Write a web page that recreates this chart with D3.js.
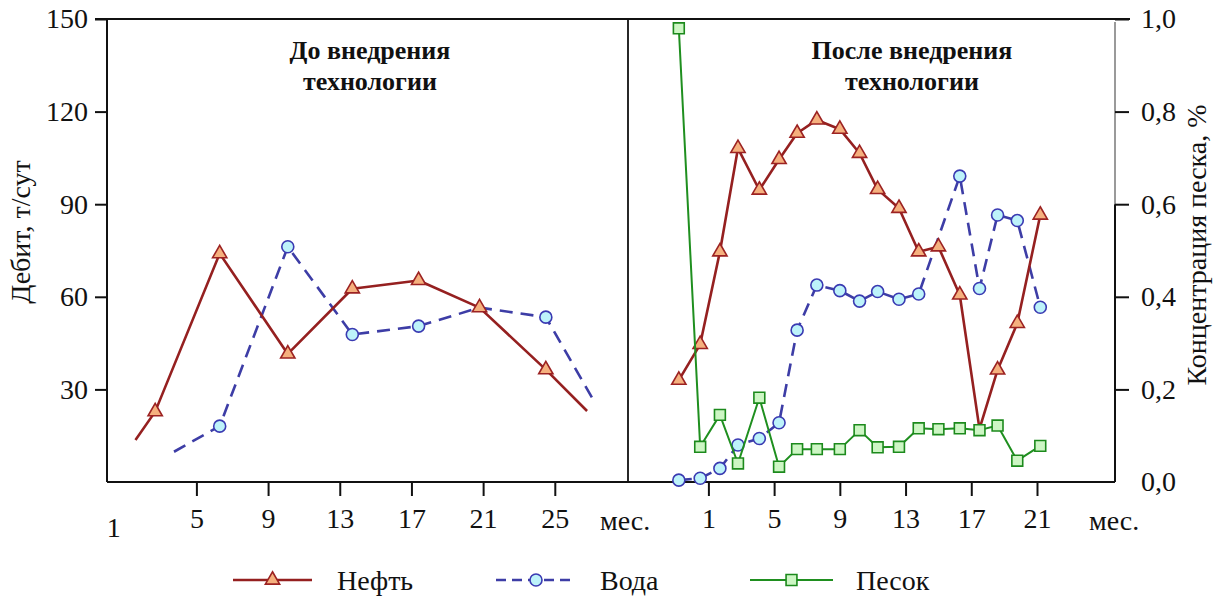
<!DOCTYPE html>
<html>
<head>
<meta charset="utf-8">
<script src="https://cdn.jsdelivr.net/npm/d3@7"></script>
<style>
  html, body { margin: 0; padding: 0; background: #fff; }
  svg { display: block; }
  svg text { font-family: "Liberation Serif", "DejaVu Serif", serif; fill: #111; }
</style>
</head>
<body>
<svg id="chart" width="1215" height="599"></svg>
<script>
// ---- Data ----------------------------------------------------------------
const ticksBefore = [5, 9, 13, 17, 21, 25];
const ticksAfter = [1, 5, 9, 13, 17, 21];
const rateTicks = [30, 60, 90, 120, 150];
const sandTicks = [0, 0.2, 0.4, 0.6, 0.8, 1.0];

// До внедрения технологии (lines are cut at the panel ends, no marker there)
const monthsBeforeOil = [1.6, 2.7, 6.3, 10.1, 13.7, 17.4, 20.8, 24.5, 26.8];
const oilBefore       = [13.6, 22.8, 74.0, 41.5, 62.6, 65.3, 56.5, 36.4, 23.0];
const oilBeforeMarked = [false, true, true, true, true, true, true, true, false];

const monthsBeforeWater = [3.75, 6.3, 10.1, 13.7, 17.4, 20.8, 24.5, 27.15];
const waterBefore       = [9.8, 18.1, 76.2, 47.8, 50.5, 56.5, 53.4, 26.6];
const waterBeforeMarked = [false, true, true, true, true, false, true, false];

// После внедрения технологии
const monthsAfter = [-0.8, 0.5, 1.7, 2.8, 4.1, 5.3, 6.4, 7.6, 9.0, 10.2, 11.3, 12.6, 13.8, 15.0, 16.3, 17.5, 18.6, 19.8, 21.2];
const oilAfter    = [33.0, 44.6, 74.6, 108.1, 94.6, 104.5, 113.0, 117.3, 114.3, 106.5, 94.8, 88.7, 74.6, 76.2, 60.6, 17.2, 36.3, 51.4, 86.5];
const oilAfterMarked = oilAfter.map((_, i) => i !== 15);
const waterAfter  = [0.6, 1.2, 4.4, 12.0, 14.1, 19.2, 49.2, 63.8, 62.0, 58.6, 61.7, 59.2, 60.9, null, 99.1, 62.7, 86.5, 84.7, 56.6];
const sandAfter   = [0.98, 0.076, 0.145, 0.040, 0.182, 0.033, 0.071, 0.071, 0.071, 0.112, 0.075, 0.076, 0.116, 0.114, 0.116, 0.112, 0.122, 0.046, 0.078];

const legendItems = ["Нефть", "Вода", "Песок"];

// ---- Layout --------------------------------------------------------------
const FONT = "Liberation Serif, DejaVu Serif, serif";
const frame = { left: 107, mid: 628, right: 1115, top: 19, bottom: 482 };
const svg = d3.select("#chart").attr("font-family", FONT);

const xBefore = d3.scaleLinear().domain([5, 25]).range([196.4, 554.8]);
const xAfter  = d3.scaleLinear().domain([1, 21]).range([708.4, 1037]);
const yRate   = d3.scaleLinear().domain([0, 150]).range([frame.bottom, frame.top]);
const ySand   = d3.scaleLinear().domain([0, 1]).range([frame.bottom, frame.top]);

const style = {
  oil:   { line: "#952020", fill: "#f5b07e", stroke: "#9c2222", width: 2.6 },
  water: { line: "#3d3da6", fill: "#bdf3fa", stroke: "#3a3ab2", width: 2.6, dash: "13,8" },
  sand:  { line: "#1f8f1f", fill: "#cdf6c4", stroke: "#1c8a1c", width: 2.0 }
};
const FS = 28;

// ---- Frame and axes ------------------------------------------------------
const axisG = svg.append("g");
axisG.append("line").attr("x1", 95).attr("x2", 1130).attr("y1", frame.top).attr("y2", frame.top)
  .attr("stroke", "#111").attr("stroke-width", 2);
axisG.append("line").attr("x1", frame.left).attr("x2", frame.right).attr("y1", frame.bottom).attr("y2", frame.bottom)
  .attr("stroke", "#111").attr("stroke-width", 2);
axisG.append("line").attr("x1", frame.left).attr("x2", frame.left).attr("y1", frame.top).attr("y2", frame.bottom)
  .attr("stroke", "#111").attr("stroke-width", 2);
axisG.append("line").attr("x1", frame.mid).attr("x2", frame.mid).attr("y1", frame.top).attr("y2", frame.bottom)
  .attr("stroke", "#111").attr("stroke-width", 1.8);
// right (sand) axis: light upper part, dark lower part
axisG.append("line").attr("x1", frame.right).attr("x2", frame.right).attr("y1", frame.top + 3).attr("y2", ySand(0.6))
  .attr("stroke", "#9a9a9a").attr("stroke-width", 2);
axisG.append("line").attr("x1", frame.right).attr("x2", frame.right).attr("y1", ySand(0.6)).attr("y2", frame.bottom)
  .attr("stroke", "#111").attr("stroke-width", 2);

function styleAxis(g) {
  g.attr("font-family", FONT);
  g.select(".domain").remove();
  g.selectAll(".tick line").attr("stroke", "#111").attr("stroke-width", 2);
  g.selectAll(".tick text").attr("font-size", FS).attr("fill", "#111");
}

// left value axis
const gl = svg.append("g").attr("transform", `translate(${frame.left},0)`)
  .call(d3.axisLeft(yRate).tickValues(rateTicks).tickSize(12).tickPadding(7).tickFormat(d3.format("d")));
styleAxis(gl);

// right sand axis
const gr = svg.append("g").attr("transform", `translate(${frame.right},0)`)
  .call(d3.axisRight(ySand).tickValues(sandTicks).tickSize(14).tickPadding(12)
    .tickFormat(d => d3.format(".1f")(d).replace(".", ",")));
styleAxis(gr);
gr.selectAll(".tick line").attr("opacity", d => d === 0 ? 0 : 1);

// bottom month axes
function monthAxis(scale, values) {
  const g = svg.append("g").attr("transform", `translate(0,${frame.bottom})`)
    .call(d3.axisBottom(scale).tickValues(values).tickSize(14).tickPadding(12).tickFormat(d3.format("d")));
  styleAxis(g);
  return g;
}
monthAxis(xBefore, ticksBefore);
monthAxis(xAfter, ticksAfter);

// the first month of the earlier period is labelled without a tick
svg.append("text").attr("x", xBefore(1) - 11).attr("y", 537)
  .attr("text-anchor", "middle").attr("font-size", FS).text("1");
svg.append("text").attr("x", 600).attr("y", 530).attr("font-size", FS).text("мес.");
svg.append("text").attr("x", 1089).attr("y", 530).attr("font-size", FS).text("мес.");

// axis titles
svg.append("text").attr("transform", "translate(30,232) rotate(-90)")
  .attr("text-anchor", "middle").attr("font-size", FS).text("Дебит, т/сут");
svg.append("text").attr("transform", "translate(1206,245) rotate(-90)")
  .attr("text-anchor", "middle").attr("font-size", FS).text("Концентрация песка, %");

// panel titles
function panelTitle(cx, lines) {
  const t = svg.append("text").attr("text-anchor", "middle").attr("font-size", 26).attr("font-weight", "bold");
  lines.forEach((s, i) => t.append("tspan").attr("x", cx).attr("y", 59 + i * 31).text(s));
}
panelTitle(370, ["До внедрения", "технологии"]);
panelTitle(912, ["После внедрения", "технологии"]);

// ---- Series --------------------------------------------------------------
const tri = d3.symbol(d3.symbolTriangle).size(88);
const sq  = d3.symbol(d3.symbolSquare).size(118);

function drawSeries(xs, ys, marked, x, y, st, kind) {
  const pts = xs.map((m, i) => ({ m, v: ys[i], mark: marked ? marked[i] : true }))
                .filter(p => p.v !== null && p.v !== undefined);
  const line = d3.line().x(p => x(p.m)).y(p => y(p.v));
  const g = svg.append("g");
  g.append("path").attr("d", line(pts)).attr("fill", "none")
    .attr("stroke", st.line).attr("stroke-width", st.width)
    .attr("stroke-dasharray", st.dash || null).attr("stroke-linejoin", "round");
  const mp = pts.filter(p => p.mark);
  if (kind === "circle") {
    g.selectAll("circle").data(mp).join("circle")
      .attr("cx", p => x(p.m)).attr("cy", p => y(p.v)).attr("r", 6)
      .attr("fill", st.fill).attr("stroke", st.stroke).attr("stroke-width", 1.6);
  } else {
    g.selectAll("path.m").data(mp).join("path").attr("class", "m")
      .attr("d", kind === "triangle" ? tri : sq)
      .attr("transform", p => `translate(${x(p.m)},${y(p.v)})`)
      .attr("fill", st.fill).attr("stroke", st.stroke).attr("stroke-width", 1.6);
  }
}

drawSeries(monthsBeforeWater, waterBefore, waterBeforeMarked, xBefore, yRate, style.water, "circle");
drawSeries(monthsBeforeOil, oilBefore, oilBeforeMarked, xBefore, yRate, style.oil, "triangle");

drawSeries(monthsAfter, waterAfter, null, xAfter, yRate, style.water, "circle");
drawSeries(monthsAfter, oilAfter, oilAfterMarked, xAfter, yRate, style.oil, "triangle");
drawSeries(monthsAfter, sandAfter, null, xAfter, ySand, style.sand, "square");

// ---- Legend --------------------------------------------------------------
const legendPos = [
  { x1: 233, x2: 312, text: 337, st: style.oil, kind: "triangle" },
  { x1: 496, x2: 576, text: 600, st: style.water, kind: "circle" },
  { x1: 750, x2: 833, text: 856, st: style.sand, kind: "square" }
];
const ly = 580;
legendItems.forEach((name, i) => {
  const p = legendPos[i];
  const g = svg.append("g");
  g.append("line").attr("x1", p.x1).attr("x2", p.x2).attr("y1", ly).attr("y2", ly)
    .attr("stroke", p.st.line).attr("stroke-width", p.st.width)
    .attr("stroke-dasharray", p.st.dash ? "10,6" : null);
  const cx = (p.x1 + p.x2) / 2;
  if (p.kind === "circle") {
    g.append("circle").attr("cx", cx).attr("cy", ly).attr("r", 6)
      .attr("fill", p.st.fill).attr("stroke", p.st.stroke).attr("stroke-width", 1.6);
  } else {
    g.append("path").attr("d", p.kind === "triangle" ? tri : sq)
      .attr("transform", `translate(${cx},${ly})`)
      .attr("fill", p.st.fill).attr("stroke", p.st.stroke).attr("stroke-width", 1.6);
  }
  g.append("text").attr("x", p.text).attr("y", ly + 10).attr("font-size", FS).text(name);
});
</script>
</body>
</html>
